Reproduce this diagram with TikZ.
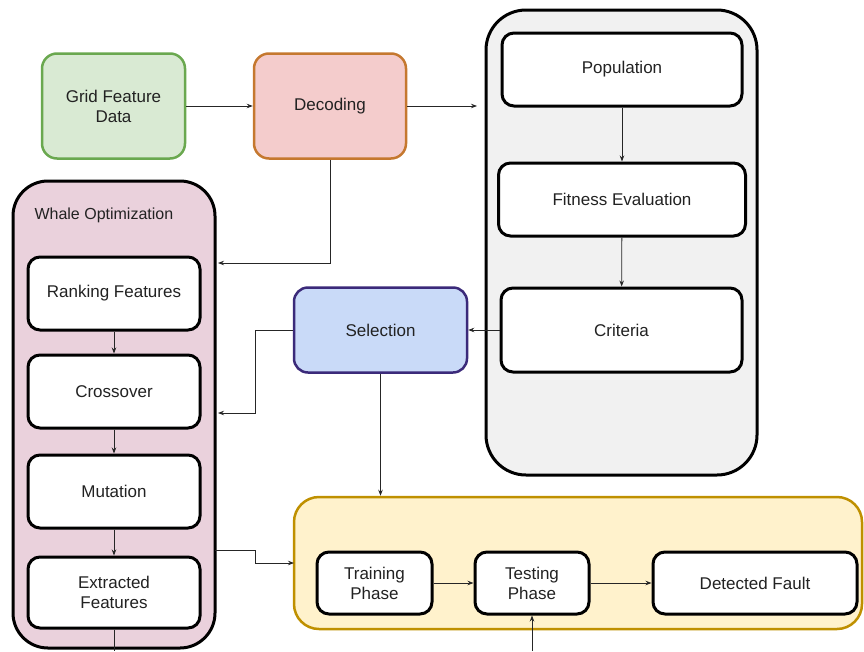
\documentclass[tikz,border=0pt]{standalone}
\usepackage{fontspec}
\setmainfont{Liberation Sans}
\usetikzlibrary{arrows.meta,calc}
\definecolor{txt}{HTML}{222222}
\definecolor{gfill}{HTML}{D9EAD3}\definecolor{gline}{HTML}{6AA84F}
\definecolor{rfill}{HTML}{F4CCCC}\definecolor{rline}{HTML}{C5782F}
\definecolor{grayfill}{HTML}{F1F1F1}
\definecolor{pfill}{HTML}{EAD1DC}
\definecolor{bfill}{HTML}{C9DAF8}\definecolor{bline}{HTML}{3B2A7A}
\definecolor{yfill}{HTML}{FFF2CC}\definecolor{yline}{HTML}{BF9000}
\begin{document}
\begin{tikzpicture}[x=1pt,y=-1pt,
  font=\fontsize{17}{20}\selectfont, text=txt,
  wbox/.style={draw=black, line width=3pt, fill=white, rounded corners=12pt, align=center, inner sep=0pt},
  topbox/.style={line width=2.5pt, rounded corners=15pt, align=center, inner sep=0pt, minimum width=143pt, minimum height=105pt},
  conn/.style={draw=black!85, line width=0.8pt},
  arr/.style={conn, -{Stealth[length=6pt,width=4.5pt]}}]
\useasboundingbox (0,0) rectangle (864,651);
% big containers
\node[draw=black, line width=3pt, fill=grayfill, rounded corners=40pt, minimum width=271pt, minimum height=465pt, inner sep=0pt] (gray) at (621.5,242.5) {};
\node[draw=black, line width=3pt, fill=pfill, rounded corners=35pt, minimum width=202pt, minimum height=467pt, inner sep=0pt] (whale) at (114,414.5) {};
\node[anchor=west, font=\fontsize{16}{19}\selectfont] (wlabel) at (31,215) {Whale Optimization};
\node[draw=yline, line width=2.5pt, fill=yfill, rounded corners=25pt, minimum width=568pt, minimum height=132pt, inner sep=0pt] (yellow) at (578,563) {};
% top boxes
\node[topbox, draw=gline, fill=gfill] (grid) at (113.5,106) {Grid Feature\\Data};
\node[topbox, draw=rline, fill=rfill, minimum width=152pt] (dec) at (330,106) {Decoding};
% gray inner
\node[wbox, minimum width=240pt, minimum height=73pt] (pop) at (622,69.5) {Population};
\node[wbox, minimum width=247pt, minimum height=73pt] (fit) at (622,199.5) {Fitness Evaluation};
\node[wbox, minimum width=241pt, minimum height=84pt] (crit) at (621.5,330) {Criteria};
% selection
\node[draw=bline, line width=2.5pt, fill=bfill, rounded corners=14pt, minimum width=173pt, minimum height=85pt, inner sep=0pt] (sel) at (380.5,330) {Selection};
% whale inner
\node[wbox, minimum width=172pt, minimum height=73pt] (rank) at (114,293.5) {Ranking Features};
\node[wbox, minimum width=172pt, minimum height=73pt] (cross) at (114,391.5) {Crossover};
\node[wbox, minimum width=172pt, minimum height=73pt] (mut) at (114,491.5) {Mutation};
\node[wbox, minimum width=172pt, minimum height=71pt] (ext) at (114,592.5) {Extracted\\Features};
% yellow inner
\node[wbox, minimum width=115pt, minimum height=62pt] (train) at (374.5,583) {Training\\Phase};
\node[wbox, minimum width=114pt, minimum height=62pt] (test) at (532,583) {Testing\\Phase};
\node[wbox, minimum width=204pt, minimum height=62pt] (fault) at (755,583) {Detected Fault};
% free ends
\coordinate (decend) at (477,106);
\coordinate (wtop) at (218,263);
\coordinate (selbend) at (255,330);
\coordinate (wcross) at (218,413);
\coordinate (wout) at (215,550);
\coordinate (wbend) at (255,550);
\coordinate (ybend) at (255,563);
\coordinate (yin) at (294,563);
\coordinate (extend) at (114,651);
\coordinate (testin) at (532,651);
% connectors
\draw[arr] (grid) -- (dec);
\draw[arr] (dec.east) -- (decend);
\draw[arr] (dec.south) |- (wtop);
\draw[arr] (pop) -- (fit);
\draw[arr] (fit) -- (crit);
\draw[arr] (crit) -- (sel);
\draw[arr] (sel.west) -- (selbend) |- (wcross);
\draw[arr] (sel.south) -- (sel.south |- yellow.north);
\draw[arr] (rank) -- (cross);
\draw[arr] (cross) -- (mut);
\draw[arr] (mut) -- (ext);
\draw[conn] (ext.south) -- (extend);
\draw[arr] (wout) -- (wbend) -- (ybend) -- (yin);
\draw[arr] (train) -- (test);
\draw[arr] (test) -- (fault);
\draw[arr] (testin) -- (test.south);
\end{tikzpicture}
\end{document}
